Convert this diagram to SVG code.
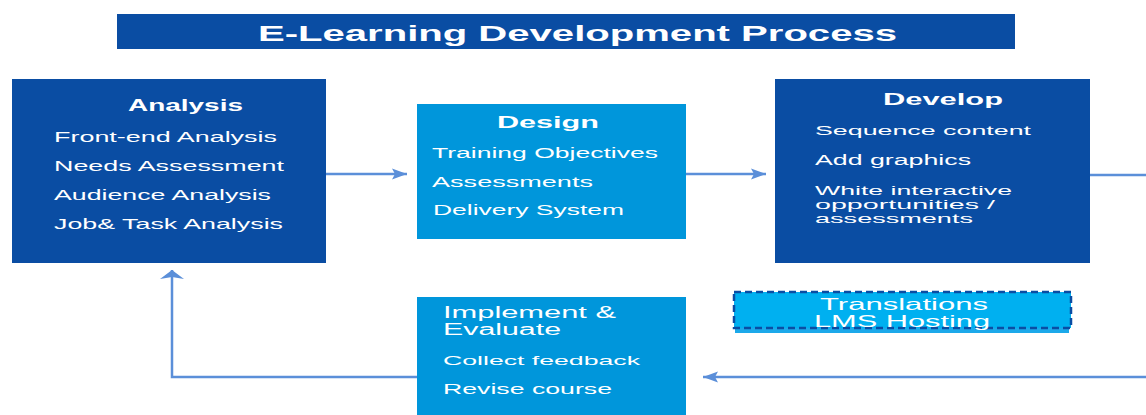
<svg xmlns="http://www.w3.org/2000/svg" width="1146" height="415" viewBox="0 0 1146 415">
<style>
text{font-family:"Liberation Sans",Arial,sans-serif;fill:#ffffff}
.dark{fill:#0A4DA3}
.mid{fill:#0096DB}
.hd{font-weight:bold}
.conn{fill:none;stroke:#5B8FD9;stroke-width:2.5}
</style>
<defs>
<marker id="ah" markerUnits="userSpaceOnUse" markerWidth="16" markerHeight="12" refX="15" refY="6" orient="auto">
<path d="M0,0.5 L15,6 L0,11.5 L3,6 z" fill="#5B8FD9"/>
</marker>
<marker id="ahw" markerUnits="userSpaceOnUse" markerWidth="10" markerHeight="26" refX="9" refY="13" orient="auto">
<path d="M0,1 L9,13 L0,25 L2,13 z" fill="#5B8FD9"/>
</marker>
</defs>
<g id="title">
<rect x="117" y="14" width="898" height="35" class="dark"/>
<text x="258" y="41" font-size="22" class="hd" textLength="639" lengthAdjust="spacingAndGlyphs">E-Learning Development Process</text>
</g>
<g id="connectors">
<path class="conn" d="M326 174 H407" marker-end="url(#ah)"/>
<path class="conn" d="M686 174 H766" marker-end="url(#ah)"/>
<path class="conn" d="M1090 175 H1160 V377 H703" marker-end="url(#ah)"/>
<path class="conn" d="M417 377 H172 V270" marker-end="url(#ahw)"/>
</g>
<g id="analysis">
<rect x="12" y="79" width="314" height="184" class="dark"/>
<text x="128" y="111" font-size="17" class="hd" textLength="115" lengthAdjust="spacingAndGlyphs">Analysis</text>
<text x="54" y="142" font-size="14" textLength="223" lengthAdjust="spacingAndGlyphs">Front-end Analysis</text>
<text x="54" y="171" font-size="14" textLength="230" lengthAdjust="spacingAndGlyphs">Needs Assessment</text>
<text x="54" y="200" font-size="14" textLength="217" lengthAdjust="spacingAndGlyphs">Audience Analysis</text>
<text x="54" y="229" font-size="14.5" textLength="229" lengthAdjust="spacingAndGlyphs">Job&amp; Task Analysis</text>
</g>
<g id="design">
<rect x="417" y="104" width="269" height="135" class="mid"/>
<text x="497" y="128" font-size="17" class="hd" textLength="102" lengthAdjust="spacingAndGlyphs">Design</text>
<text x="432" y="158" font-size="14" textLength="226" lengthAdjust="spacingAndGlyphs">Training Objectives</text>
<text x="432" y="187" font-size="15" textLength="161" lengthAdjust="spacingAndGlyphs">Assessments</text>
<text x="433" y="215" font-size="15" textLength="191" lengthAdjust="spacingAndGlyphs">Delivery System</text>
</g>
<g id="develop">
<rect x="775" y="79" width="315" height="184" class="dark"/>
<text x="883" y="105" font-size="17" class="hd" textLength="120" lengthAdjust="spacingAndGlyphs">Develop</text>
<text x="815" y="135" font-size="13" textLength="216" lengthAdjust="spacingAndGlyphs">Sequence content</text>
<text x="815" y="165" font-size="14" textLength="156" lengthAdjust="spacingAndGlyphs">Add graphics</text>
<text x="815" y="195" font-size="13.5" textLength="197" lengthAdjust="spacingAndGlyphs">White interactive</text>
<text x="815" y="208.5" font-size="12.5" textLength="180" lengthAdjust="spacingAndGlyphs">opportunities /</text>
<text x="815" y="222.5" font-size="12.5" textLength="158" lengthAdjust="spacingAndGlyphs">assessments</text>
</g>
<g id="implement">
<rect x="417" y="297" width="269" height="125" class="mid"/>
<text x="443" y="318" font-size="16" textLength="173" lengthAdjust="spacingAndGlyphs">Implement &amp;</text>
<text x="443" y="335" font-size="16" textLength="118" lengthAdjust="spacingAndGlyphs">Evaluate</text>
<text x="443" y="365" font-size="13" textLength="197" lengthAdjust="spacingAndGlyphs">Collect feedback</text>
<text x="443" y="394" font-size="14.5" textLength="169" lengthAdjust="spacingAndGlyphs">Revise course</text>
</g>
<g id="translations">
<rect x="735" y="296" width="334" height="37" fill="#1CA9EA"/>
<rect x="734" y="292" width="337" height="36" fill="#00B0F0" stroke="#0A4DA3" stroke-width="2.5" stroke-dasharray="7,4"/>
<text x="820" y="310" font-size="16.5" textLength="168" lengthAdjust="spacingAndGlyphs">Translations</text>
<text x="814" y="327" font-size="16.5" textLength="176" lengthAdjust="spacingAndGlyphs">LMS Hosting</text>
</g>
</svg>
